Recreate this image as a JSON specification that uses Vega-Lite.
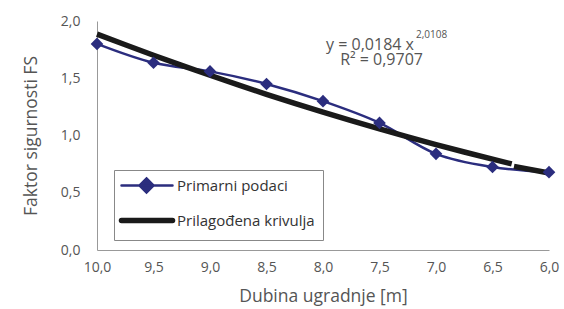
{
  "$schema": "https://vega.github.io/schema/vega-lite/v6.json",
  "width": 452,
  "height": 229,
  "autosize": {"type": "none"},
  "padding": {"left": 97, "top": 21, "right": 15, "bottom": 59},
  "background": "white",
  "config": {
    "view": {"stroke": null},
    "font": "Open Sans",
    "axis": {
      "domainColor": "#999999",
      "tickColor": "#999999",
      "grid": false,
      "labelFont": "Open Sans",
      "labelFontSize": 14,
      "labelColor": "#555555",
      "labelFlush": false,
      "titleFont": "Open Sans",
      "titleFontSize": 17.5,
      "titleFontWeight": "normal",
      "titleColor": "#555555"
    },
    "legend": {
      "orient": "none",
      "legendX": 17,
      "legendY": 149,
      "strokeColor": "#888888",
      "fillColor": "white",
      "padding": 8,
      "symbolSize": 100,
      "symbolStrokeWidth": 2,
      "labelOffset": 40,
      "rowPadding": 11,
      "labelFont": "Open Sans",
      "labelFontSize": 15,
      "labelColor": "#333333"
    }
  },
  "encoding": {
    "x": {
      "field": "x",
      "type": "quantitative",
      "scale": {"domain": [10, 6], "nice": false, "zero": false},
      "axis": {
        "title": "Dubina ugradnje [m]",
        "values": [10, 9.5, 9, 8.5, 8, 7.5, 7, 6.5, 6],
        "tickSize": 0,
        "labelPadding": 10,
        "titlePadding": 13,
        "labelExpr": "replace(format(datum.value, '.1f'), '.', ',')",
        "encode": {"ticks": {"update": {"y2": {"value": -7}}}}
      }
    },
    "y": {
      "field": "y",
      "type": "quantitative",
      "scale": {"domain": [0, 2], "nice": false, "zero": false},
      "axis": {
        "title": "Faktor sigurnosti FS",
        "values": [0, 0.5, 1, 1.5, 2],
        "tickSize": 0,
        "labelPadding": 17,
        "titlePadding": 20,
        "labelExpr": "replace(format(datum.value, '.1f'), '.', ',')",
        "encode": {"ticks": {"update": {"x2": {"value": 8}}}}
      }
    }
  },
  "layer": [
    {
      "data": {"values": [
        {"x": 10.0, "y": 1.80, "series": "Primarni podaci"},
        {"x": 9.5, "y": 1.635, "series": "Primarni podaci"},
        {"x": 9.0, "y": 1.56, "series": "Primarni podaci"},
        {"x": 8.5, "y": 1.45, "series": "Primarni podaci"},
        {"x": 8.0, "y": 1.30, "series": "Primarni podaci"},
        {"x": 7.5, "y": 1.11, "series": "Primarni podaci"},
        {"x": 7.0, "y": 0.84, "series": "Primarni podaci"},
        {"x": 6.5, "y": 0.725, "series": "Primarni podaci"},
        {"x": 6.0, "y": 0.68, "series": "Primarni podaci"}
      ]},
      "mark": {"type": "line", "interpolate": "monotone", "strokeWidth": 2.5},
      "encoding": {
        "color": {
          "field": "series",
          "type": "nominal",
          "scale": {"domain": ["Primarni podaci", "Prilagođena krivulja"], "range": ["#2B2D7E", "#1a1a1a"]},
          "legend": {
            "title": null,
            "encode": {
              "symbols": {
                "update": {
                  "shape": {"signal": "datum.value === 'Primarni podaci' ? 'M-1.6,0H8.6M3.4,-1.4L4.8,0L3.4,1.4L2,0Z' : 'M-1.6,0H8.6'"},
                  "strokeWidth": {"signal": "datum.value === 'Primarni podaci' ? 2.5 : 5.5"},
                  "fill": {"signal": "datum.value === 'Primarni podaci' ? '#2B2D7E' : 'transparent'"},
                  "fillOpacity": {"value": 1},
                  "strokeCap": {"value": "round"}
                }
              }
            }
          }
        }
      }
    },
    {
      "data": {"values": [
        {"x": 10.0, "y": 1.886, "part": "a", "series": "Prilagođena krivulja"},
        {"x": 9.75, "y": 1.793, "part": "a", "series": "Prilagođena krivulja"},
        {"x": 9.5, "y": 1.701, "part": "a", "series": "Prilagođena krivulja"},
        {"x": 9.25, "y": 1.613, "part": "a", "series": "Prilagođena krivulja"},
        {"x": 9.0, "y": 1.526, "part": "a", "series": "Prilagođena krivulja"},
        {"x": 8.75, "y": 1.442, "part": "a", "series": "Prilagođena krivulja"},
        {"x": 8.5, "y": 1.360, "part": "a", "series": "Prilagođena krivulja"},
        {"x": 8.25, "y": 1.281, "part": "a", "series": "Prilagođena krivulja"},
        {"x": 8.0, "y": 1.204, "part": "a", "series": "Prilagođena krivulja"},
        {"x": 7.75, "y": 1.130, "part": "a", "series": "Prilagođena krivulja"},
        {"x": 7.5, "y": 1.058, "part": "a", "series": "Prilagođena krivulja"},
        {"x": 7.25, "y": 0.988, "part": "a", "series": "Prilagođena krivulja"},
        {"x": 7.0, "y": 0.921, "part": "a", "series": "Prilagođena krivulja"},
        {"x": 6.75, "y": 0.856, "part": "a", "series": "Prilagođena krivulja"},
        {"x": 6.5, "y": 0.793, "part": "a", "series": "Prilagođena krivulja"},
        {"x": 6.33, "y": 0.752, "part": "a", "series": "Prilagođena krivulja"},
        {"x": 6.31, "y": 0.730, "part": "b", "series": "Prilagođena krivulja"},
        {"x": 6.0, "y": 0.673, "part": "b", "series": "Prilagođena krivulja"}
      ]},
      "mark": {"type": "line", "strokeWidth": 5.5},
      "encoding": {
        "color": {"field": "series", "type": "nominal"},
        "detail": {"field": "part"}
      }
    },
    {
      "data": {"values": [
        {"x": 10.0, "y": 1.80, "series": "Primarni podaci"},
        {"x": 9.5, "y": 1.635, "series": "Primarni podaci"},
        {"x": 9.0, "y": 1.56, "series": "Primarni podaci"},
        {"x": 8.5, "y": 1.45, "series": "Primarni podaci"},
        {"x": 8.0, "y": 1.30, "series": "Primarni podaci"},
        {"x": 7.5, "y": 1.11, "series": "Primarni podaci"},
        {"x": 7.0, "y": 0.84, "series": "Primarni podaci"},
        {"x": 6.5, "y": 0.725, "series": "Primarni podaci"},
        {"x": 6.0, "y": 0.68, "series": "Primarni podaci"}
      ]},
      "mark": {"type": "point", "shape": "diamond", "filled": true, "size": 160, "opacity": 1},
      "encoding": {
        "color": {"field": "series", "type": "nominal"}
      }
    },
    {
      "data": {"values": [{"x": 7.195, "y": 1.748, "label": "y = 0,0184 x"}]},
      "mark": {"type": "text", "align": "right", "baseline": "alphabetic", "fontSize": 16, "color": "#555555", "font": "Open Sans"},
      "encoding": {"text": {"field": "label"}}
    },
    {
      "data": {"values": [{"x": 7.177, "y": 1.853, "label": "2,0108"}]},
      "mark": {"type": "text", "align": "left", "baseline": "alphabetic", "fontSize": 10, "color": "#555555", "font": "Open Sans"},
      "encoding": {"text": {"field": "label"}}
    },
    {
      "data": {"values": [{"x": 7.482, "y": 1.612, "label": "R² = 0,9707"}]},
      "mark": {"type": "text", "align": "center", "baseline": "alphabetic", "fontSize": 16, "color": "#555555", "font": "Open Sans"},
      "encoding": {"text": {"field": "label"}}
    }
  ]
}
